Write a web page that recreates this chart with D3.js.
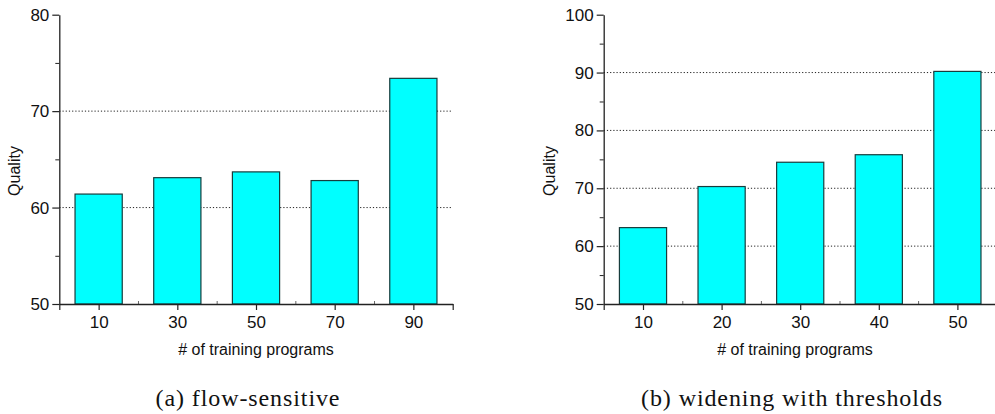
<!DOCTYPE html>
<html>
<head>
<meta charset="utf-8">
<script src="https://cdn.jsdelivr.net/npm/d3@7"></script>
<style>
    html, body { margin: 0; padding: 0; background: #ffffff; overflow: hidden; }
    svg { display: block; }
    .tick text { font-family: "Liberation Sans", Arial, sans-serif; font-size: 17px; fill: #111; }
</style>
</head>
<body>
<script>
// 面板 (a) 数据
const programsA = [10, 30, 50, 70, 90];
const qualityA = [61.4, 63.1, 63.7, 62.8, 73.4];
const yTicksA = [50, 60, 70, 80];
const yMinorA = [55, 65, 75];
const gridA = [60, 70];

// 面板 (b) 数据
const programsB = [10, 20, 30, 40, 50];
const qualityB = [63.2, 70.3, 74.5, 75.8, 90.2];
const yTicksB = [50, 60, 70, 80, 90, 100];
const yMinorB = [55, 65, 75, 85, 95];
const gridB = [60, 70, 80, 90];

const xTitle = '# of training programs';
const yTitle = 'Quality';
const captions = ['(a) flow-sensitive', '(b) widening with thresholds'];

const svgWidth = 995, svgHeight = 414;
const svg = d3.select('body')
    .append('svg')
    .attr('width', svgWidth)
    .attr('height', svgHeight);

/**
 * 绘制一个柱状图面板
 */
const drawPanel = (p) => {
    const {programs, quality, yTicks, yMinor, grid, xDomain, xRange, yDomain, barUnits,
           xMinor, xEnds, yLabelX, xTitleX} = p;
    const x = d3.scaleLinear().domain(xDomain).range(xRange);
    const y = d3.scaleLinear().domain(yDomain).range([304, 14.7]);
    const g = svg.append('g');

    // 虚线网格
    g.append('g')
        .selectAll('line')
        .data(grid)
        .enter()
        .append('line')
        .attr('x1', xRange[0])
        .attr('x2', xRange[1])
        .attr('y1', d => y(d))
        .attr('y2', d => y(d))
        .attr('stroke', '#222')
        .attr('stroke-width', 1)
        .attr('stroke-dasharray', '1.2,2');

    // 柱子
    const bw = x(xDomain[0] + barUnits) - x(xDomain[0]);
    g.append('g')
        .selectAll('rect')
        .data(programs.map((d, i) => ({p: d, q: quality[i]})))
        .enter()
        .append('rect')
        .attr('x', d => x(d.p) - bw / 2)
        .attr('y', d => y(d.q))
        .attr('width', bw)
        .attr('height', d => y(yDomain[0]) - y(d.q))
        .attr('fill', '#00ffff')
        .attr('stroke', '#173d3d')
        .attr('stroke-width', 1.2);

    // x 轴次刻度（向内）
    g.append('g')
        .attr('transform', `translate(0,${y(yDomain[0])})`)
        .call(d3.axisBottom(x).tickValues(xMinor).tickSize(-3).tickSizeOuter(0).tickFormat(''))
        .call(a => a.select('.domain').remove())
        .selectAll('line').attr('stroke', '#666');

    // x 轴主刻度
    g.append('g')
        .attr('transform', `translate(0,${y(yDomain[0])})`)
        .call(d3.axisBottom(x)
            .tickValues(xEnds.concat(programs))
            .tickSize(6)
            .tickSizeOuter(0)
            .tickPadding(6)
            .tickFormat(d => xEnds.includes(d) ? '' : d))
        .call(a => a.select('.domain').attr('stroke', '#222').attr('stroke-width', 1.3))
        .selectAll('line').attr('stroke', '#222').attr('stroke-width', 1.2);

    // y 轴次刻度
    g.append('g')
        .attr('transform', `translate(${xRange[0]},0)`)
        .call(d3.axisLeft(y).tickValues(yMinor).tickSize(4).tickSizeOuter(0).tickFormat(''))
        .call(a => a.select('.domain').remove())
        .selectAll('line').attr('stroke', '#222');

    // y 轴主刻度
    g.append('g')
        .attr('transform', `translate(${xRange[0]},0)`)
        .call(d3.axisLeft(y).tickValues(yTicks).tickSize(7).tickSizeOuter(0).tickPadding(3))
        .call(a => a.select('.domain').attr('stroke', '#222').attr('stroke-width', 1.3))
        .selectAll('line').attr('stroke', '#222').attr('stroke-width', 1.2);

    // 轴标题
    g.append('text')
        .attr('transform', `translate(${yLabelX},171) rotate(-90)`)
        .attr('text-anchor', 'middle')
        .style('font-family', '"Liberation Sans", Arial, sans-serif')
        .style('font-size', '16px')
        .attr('fill', '#111')
        .text(yTitle);
    g.append('text')
        .attr('x', xTitleX)
        .attr('y', 355)
        .attr('text-anchor', 'middle')
        .style('font-family', '"Liberation Sans", Arial, sans-serif')
        .style('font-size', '16px')
        .attr('fill', '#111')
        .text(xTitle);
};

drawPanel({
    programs: programsA, quality: qualityA, yTicks: yTicksA, yMinor: yMinorA, grid: gridA,
    xDomain: [0, 100], xRange: [59.3, 452.7], yDomain: [50, 80], barUnits: 12,
    xMinor: [20, 40, 60, 80], xEnds: [0, 100], yLabelX: 20, xTitleX: 256
});
drawPanel({
    programs: programsB, quality: qualityB, yTicks: yTicksB, yMinor: yMinorB, grid: gridB,
    xDomain: [5, 55], xRange: [603.7, 996.7], yDomain: [50, 100], barUnits: 6,
    xMinor: [15, 25, 35, 45], xEnds: [5], yLabelX: 555, xTitleX: 795
});

// 子图标题
svg.selectAll('.caption')
    .data(captions)
    .enter()
    .append('text')
    .attr('class', 'caption')
    .attr('x', (d, i) => [248, 792][i])
    .attr('y', 406)
    .attr('text-anchor', 'middle')
    .style('font-family', '"Liberation Serif", "Times New Roman", serif')
    .style('font-size', '24px')
    .style('letter-spacing', '0.9px')
    .attr('fill', '#111')
    .text(d => d);
</script>
</body>
</html>
